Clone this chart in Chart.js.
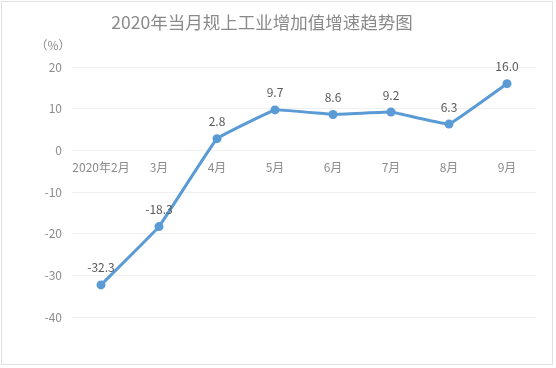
<!DOCTYPE html>
<html>
<head>
<meta charset="utf-8">
<script src="https://cdn.jsdelivr.net/npm/chart.js@4/dist/chart.umd.min.js"></script>
<style>
  html, body { margin: 0; padding: 0; background: #fff; }
  #box {
    position: absolute; left: 1px; top: 1px;
    width: 552px; height: 364px;
    border: 1px solid #e0e0e0; box-sizing: border-box;
  }
  #box canvas { display: block; }
</style>
</head>
<body>
<div id="box"><canvas id="c" width="550" height="362"></canvas></div>
<script>
  // 数据
  const months = ["2020年2月", "3月", "4月", "5月", "6月", "7月", "8月", "9月"];
  const growth = [-32.3, -18.3, 2.8, 9.7, 8.6, 9.2, 6.3, 16.0];
  const titleText = "2020年当月规上工业增加值增速趋势图";
  const unitText = "（%）";
  const yMin = -40, yMax = 20, yStep = 10;

  const FONT = "'Noto Sans CJK SC', 'Microsoft YaHei', sans-serif";
  const LINE = "#5b9bd5";

  // 标题 / 单位 / 数据标签
  const decor = {
    id: "decor",
    afterDatasetsDraw(chart) {
      const ctx = chart.ctx;
      ctx.save();
      ctx.textBaseline = "middle";
      ctx.textAlign = "center";
      ctx.fillStyle = "#8a8a8a";
      ctx.font = "17.5px " + FONT;
      ctx.fillText(titleText, 260, 20);

      ctx.fillStyle = "#8c8c8c";
      ctx.font = "12px " + FONT;
      ctx.fillText(unitText, 51, 43);

      const meta = chart.getDatasetMeta(0);
      ctx.fillStyle = "#595959";
      ctx.font = "12px " + FONT;
      meta.data.forEach((pt, i) => {
        ctx.fillText(growth[i].toFixed(1), pt.x, pt.y - 17);
      });
      ctx.restore();
    }
  };

  new Chart(document.getElementById("c"), {
    type: "line",
    data: {
      labels: months,
      datasets: [{
        data: growth,
        borderColor: LINE,
        backgroundColor: LINE,
        borderWidth: 3,
        pointRadius: 4.5,
        pointBackgroundColor: LINE,
        pointBorderWidth: 0,
        tension: 0.06,
        fill: false
      }]
    },
    options: {
      responsive: false,
      animation: false,
      layout: { padding: { top: 65, right: 16, bottom: 47, left: 0 } },
      plugins: {
        legend: { display: false },
        tooltip: { enabled: false }
      },
      scales: {
        x: {
          offset: true,
          position: { y: 0 },
          grid: { display: false },
          border: { display: false },
          ticks: {
            color: "#8c8c8c",
            font: { family: FONT, size: 12 },
            padding: 2,
            maxRotation: 0,
            autoSkip: false
          }
        },
        y: {
          min: yMin,
          max: yMax,
          afterFit: (s) => { s.width = 70; },
          grid: { color: "#f0f0f0", drawTicks: false, lineWidth: 1 },
          border: { display: false },
          ticks: {
            stepSize: yStep,
            color: "#8c8c8c",
            font: { family: FONT, size: 12 },
            padding: 10
          }
        }
      }
    },
    plugins: [decor]
  });
</script>
</body>
</html>
